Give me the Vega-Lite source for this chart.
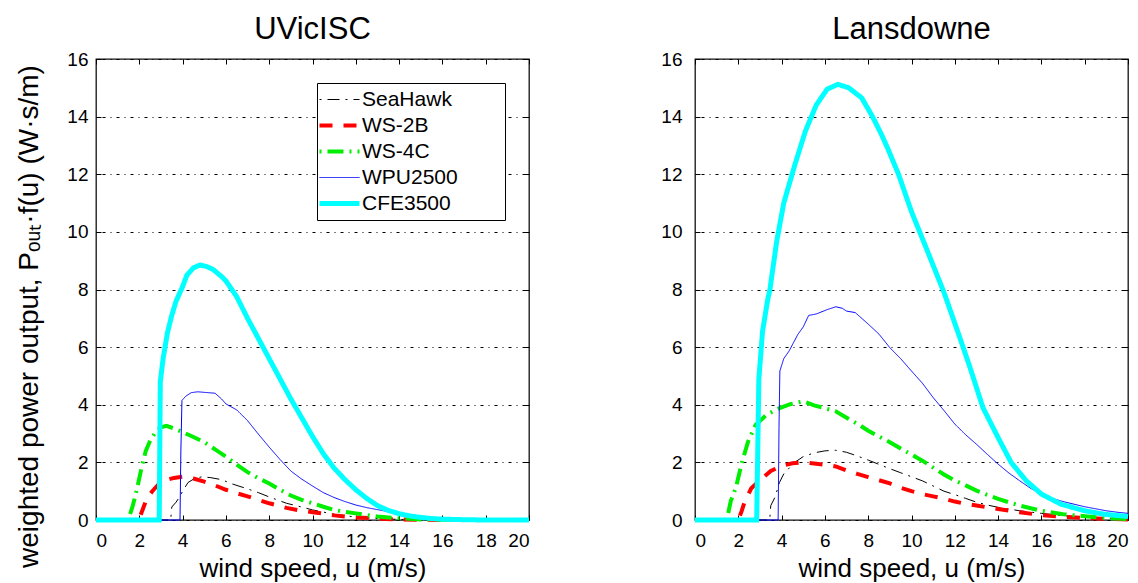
{
  "$schema": "https://vega.github.io/schema/vega-lite/v6.json",
  "background": "white",
  "padding": {"left": 15, "top": 13, "right": 0, "bottom": 0},
  "config": {
    "font": "Liberation Sans",
    "view": {"stroke": "#111111", "strokeWidth": 1.3},
    "axis": {
      "labelFont": "Liberation Sans", "labelFontSize": 19, "labelColor": "black",
      "titleFont": "Liberation Sans", "titleFontSize": 26, "titleFontWeight": "normal", "titleColor": "black",
      "tickColor": "black", "tickSize": -5, "tickWidth": 1, "domain": false, "grid": false
    },
    "title": {"font": "Liberation Sans", "fontSize": 31, "fontWeight": "normal", "color": "black", "anchor": "middle", "frame": "group", "offset": 4}
  },
  "datasets": {
    "curves": [
      {"site": "UVicISC", "turbine": "SeaHawk", "u": 0, "p": 0},
      {"site": "UVicISC", "turbine": "SeaHawk", "u": 3.45, "p": 0},
      {"site": "UVicISC", "turbine": "SeaHawk", "u": 3.5, "p": 0.45},
      {"site": "UVicISC", "turbine": "SeaHawk", "u": 3.7, "p": 0.62},
      {"site": "UVicISC", "turbine": "SeaHawk", "u": 3.9, "p": 0.85},
      {"site": "UVicISC", "turbine": "SeaHawk", "u": 4.0, "p": 1.0},
      {"site": "UVicISC", "turbine": "SeaHawk", "u": 4.25, "p": 1.3},
      {"site": "UVicISC", "turbine": "SeaHawk", "u": 4.55, "p": 1.44},
      {"site": "UVicISC", "turbine": "SeaHawk", "u": 4.9, "p": 1.5},
      {"site": "UVicISC", "turbine": "SeaHawk", "u": 5.3, "p": 1.47},
      {"site": "UVicISC", "turbine": "SeaHawk", "u": 5.8, "p": 1.4},
      {"site": "UVicISC", "turbine": "SeaHawk", "u": 6.3, "p": 1.25},
      {"site": "UVicISC", "turbine": "SeaHawk", "u": 7.0, "p": 1.08},
      {"site": "UVicISC", "turbine": "SeaHawk", "u": 7.5, "p": 0.95},
      {"site": "UVicISC", "turbine": "SeaHawk", "u": 8.0, "p": 0.8},
      {"site": "UVicISC", "turbine": "SeaHawk", "u": 8.8, "p": 0.58},
      {"site": "UVicISC", "turbine": "SeaHawk", "u": 9.5, "p": 0.45},
      {"site": "UVicISC", "turbine": "SeaHawk", "u": 10.0, "p": 0.35},
      {"site": "UVicISC", "turbine": "SeaHawk", "u": 11.0, "p": 0.2},
      {"site": "UVicISC", "turbine": "SeaHawk", "u": 12.0, "p": 0.1},
      {"site": "UVicISC", "turbine": "SeaHawk", "u": 13.0, "p": 0.05},
      {"site": "UVicISC", "turbine": "SeaHawk", "u": 14.0, "p": 0.02},
      {"site": "UVicISC", "turbine": "SeaHawk", "u": 15.0, "p": 0},
      {"site": "UVicISC", "turbine": "SeaHawk", "u": 20, "p": 0},

      {"site": "UVicISC", "turbine": "WS-2B", "u": 0, "p": 0},
      {"site": "UVicISC", "turbine": "WS-2B", "u": 1.95, "p": 0},
      {"site": "UVicISC", "turbine": "WS-2B", "u": 2.05, "p": 0.15},
      {"site": "UVicISC", "turbine": "WS-2B", "u": 2.2, "p": 0.45},
      {"site": "UVicISC", "turbine": "WS-2B", "u": 2.35, "p": 0.75},
      {"site": "UVicISC", "turbine": "WS-2B", "u": 2.6, "p": 1.0},
      {"site": "UVicISC", "turbine": "WS-2B", "u": 2.9, "p": 1.25},
      {"site": "UVicISC", "turbine": "WS-2B", "u": 3.2, "p": 1.38},
      {"site": "UVicISC", "turbine": "WS-2B", "u": 3.6, "p": 1.46},
      {"site": "UVicISC", "turbine": "WS-2B", "u": 4.0, "p": 1.5},
      {"site": "UVicISC", "turbine": "WS-2B", "u": 4.5, "p": 1.44},
      {"site": "UVicISC", "turbine": "WS-2B", "u": 5.0, "p": 1.33},
      {"site": "UVicISC", "turbine": "WS-2B", "u": 5.5, "p": 1.2},
      {"site": "UVicISC", "turbine": "WS-2B", "u": 6.0, "p": 1.05},
      {"site": "UVicISC", "turbine": "WS-2B", "u": 6.5, "p": 0.93},
      {"site": "UVicISC", "turbine": "WS-2B", "u": 7.0, "p": 0.82},
      {"site": "UVicISC", "turbine": "WS-2B", "u": 7.5, "p": 0.7},
      {"site": "UVicISC", "turbine": "WS-2B", "u": 8.0, "p": 0.58},
      {"site": "UVicISC", "turbine": "WS-2B", "u": 8.8, "p": 0.42},
      {"site": "UVicISC", "turbine": "WS-2B", "u": 9.5, "p": 0.32},
      {"site": "UVicISC", "turbine": "WS-2B", "u": 10.0, "p": 0.27},
      {"site": "UVicISC", "turbine": "WS-2B", "u": 10.5, "p": 0.22},
      {"site": "UVicISC", "turbine": "WS-2B", "u": 11.0, "p": 0.16},
      {"site": "UVicISC", "turbine": "WS-2B", "u": 11.5, "p": 0.12},
      {"site": "UVicISC", "turbine": "WS-2B", "u": 12.0, "p": 0.09},
      {"site": "UVicISC", "turbine": "WS-2B", "u": 13.0, "p": 0.05},
      {"site": "UVicISC", "turbine": "WS-2B", "u": 14.0, "p": 0.02},
      {"site": "UVicISC", "turbine": "WS-2B", "u": 15.0, "p": 0.01},
      {"site": "UVicISC", "turbine": "WS-2B", "u": 16.0, "p": 0},
      {"site": "UVicISC", "turbine": "WS-2B", "u": 20, "p": 0},

      {"site": "UVicISC", "turbine": "WS-4C", "u": 0, "p": 0},
      {"site": "UVicISC", "turbine": "WS-4C", "u": 1.45, "p": 0},
      {"site": "UVicISC", "turbine": "WS-4C", "u": 1.55, "p": 0.15},
      {"site": "UVicISC", "turbine": "WS-4C", "u": 1.7, "p": 0.5},
      {"site": "UVicISC", "turbine": "WS-4C", "u": 1.9, "p": 1.1},
      {"site": "UVicISC", "turbine": "WS-4C", "u": 2.1, "p": 1.8},
      {"site": "UVicISC", "turbine": "WS-4C", "u": 2.3, "p": 2.4},
      {"site": "UVicISC", "turbine": "WS-4C", "u": 2.5, "p": 2.75},
      {"site": "UVicISC", "turbine": "WS-4C", "u": 2.75, "p": 3.05},
      {"site": "UVicISC", "turbine": "WS-4C", "u": 3.0, "p": 3.22},
      {"site": "UVicISC", "turbine": "WS-4C", "u": 3.25, "p": 3.27},
      {"site": "UVicISC", "turbine": "WS-4C", "u": 3.6, "p": 3.18},
      {"site": "UVicISC", "turbine": "WS-4C", "u": 4.0, "p": 3.05},
      {"site": "UVicISC", "turbine": "WS-4C", "u": 4.5, "p": 2.88},
      {"site": "UVicISC", "turbine": "WS-4C", "u": 5.0, "p": 2.7},
      {"site": "UVicISC", "turbine": "WS-4C", "u": 5.5, "p": 2.45},
      {"site": "UVicISC", "turbine": "WS-4C", "u": 6.0, "p": 2.2},
      {"site": "UVicISC", "turbine": "WS-4C", "u": 6.5, "p": 1.92},
      {"site": "UVicISC", "turbine": "WS-4C", "u": 7.0, "p": 1.66},
      {"site": "UVicISC", "turbine": "WS-4C", "u": 7.5, "p": 1.45},
      {"site": "UVicISC", "turbine": "WS-4C", "u": 8.0, "p": 1.27},
      {"site": "UVicISC", "turbine": "WS-4C", "u": 8.5, "p": 1.05},
      {"site": "UVicISC", "turbine": "WS-4C", "u": 9.0, "p": 0.85},
      {"site": "UVicISC", "turbine": "WS-4C", "u": 9.5, "p": 0.7},
      {"site": "UVicISC", "turbine": "WS-4C", "u": 10.0, "p": 0.58},
      {"site": "UVicISC", "turbine": "WS-4C", "u": 10.5, "p": 0.46},
      {"site": "UVicISC", "turbine": "WS-4C", "u": 11.0, "p": 0.35},
      {"site": "UVicISC", "turbine": "WS-4C", "u": 11.5, "p": 0.28},
      {"site": "UVicISC", "turbine": "WS-4C", "u": 12.0, "p": 0.23},
      {"site": "UVicISC", "turbine": "WS-4C", "u": 12.5, "p": 0.17},
      {"site": "UVicISC", "turbine": "WS-4C", "u": 13.0, "p": 0.12},
      {"site": "UVicISC", "turbine": "WS-4C", "u": 14.0, "p": 0.06},
      {"site": "UVicISC", "turbine": "WS-4C", "u": 15.0, "p": 0.02},
      {"site": "UVicISC", "turbine": "WS-4C", "u": 16.0, "p": 0.01},
      {"site": "UVicISC", "turbine": "WS-4C", "u": 17.0, "p": 0},
      {"site": "UVicISC", "turbine": "WS-4C", "u": 20, "p": 0},

      {"site": "UVicISC", "turbine": "WPU2500", "u": 0, "p": 0},
      {"site": "UVicISC", "turbine": "WPU2500", "u": 3.88, "p": 0},
      {"site": "UVicISC", "turbine": "WPU2500", "u": 3.92, "p": 2.4},
      {"site": "UVicISC", "turbine": "WPU2500", "u": 3.97, "p": 4.15},
      {"site": "UVicISC", "turbine": "WPU2500", "u": 4.15, "p": 4.3},
      {"site": "UVicISC", "turbine": "WPU2500", "u": 4.4, "p": 4.42},
      {"site": "UVicISC", "turbine": "WPU2500", "u": 4.7, "p": 4.45},
      {"site": "UVicISC", "turbine": "WPU2500", "u": 5.0, "p": 4.43},
      {"site": "UVicISC", "turbine": "WPU2500", "u": 5.5, "p": 4.4},
      {"site": "UVicISC", "turbine": "WPU2500", "u": 5.8, "p": 4.2},
      {"site": "UVicISC", "turbine": "WPU2500", "u": 6.0, "p": 4.03},
      {"site": "UVicISC", "turbine": "WPU2500", "u": 6.5, "p": 3.82},
      {"site": "UVicISC", "turbine": "WPU2500", "u": 7.0, "p": 3.45},
      {"site": "UVicISC", "turbine": "WPU2500", "u": 7.5, "p": 2.98},
      {"site": "UVicISC", "turbine": "WPU2500", "u": 8.0, "p": 2.53},
      {"site": "UVicISC", "turbine": "WPU2500", "u": 8.5, "p": 2.1},
      {"site": "UVicISC", "turbine": "WPU2500", "u": 9.0, "p": 1.7},
      {"site": "UVicISC", "turbine": "WPU2500", "u": 9.5, "p": 1.42},
      {"site": "UVicISC", "turbine": "WPU2500", "u": 10.0, "p": 1.18},
      {"site": "UVicISC", "turbine": "WPU2500", "u": 10.5, "p": 0.95},
      {"site": "UVicISC", "turbine": "WPU2500", "u": 11.0, "p": 0.78},
      {"site": "UVicISC", "turbine": "WPU2500", "u": 11.5, "p": 0.64},
      {"site": "UVicISC", "turbine": "WPU2500", "u": 12.0, "p": 0.52},
      {"site": "UVicISC", "turbine": "WPU2500", "u": 12.5, "p": 0.43},
      {"site": "UVicISC", "turbine": "WPU2500", "u": 13.0, "p": 0.36},
      {"site": "UVicISC", "turbine": "WPU2500", "u": 13.5, "p": 0.29},
      {"site": "UVicISC", "turbine": "WPU2500", "u": 14.0, "p": 0.23},
      {"site": "UVicISC", "turbine": "WPU2500", "u": 14.5, "p": 0.16},
      {"site": "UVicISC", "turbine": "WPU2500", "u": 15.0, "p": 0.1},
      {"site": "UVicISC", "turbine": "WPU2500", "u": 15.5, "p": 0.07},
      {"site": "UVicISC", "turbine": "WPU2500", "u": 16.0, "p": 0.04},
      {"site": "UVicISC", "turbine": "WPU2500", "u": 17.0, "p": 0.01},
      {"site": "UVicISC", "turbine": "WPU2500", "u": 18.0, "p": 0},
      {"site": "UVicISC", "turbine": "WPU2500", "u": 20, "p": 0},

      {"site": "UVicISC", "turbine": "CFE3500", "u": 0, "p": 0},
      {"site": "UVicISC", "turbine": "CFE3500", "u": 2.92, "p": 0},
      {"site": "UVicISC", "turbine": "CFE3500", "u": 2.97, "p": 4.8},
      {"site": "UVicISC", "turbine": "CFE3500", "u": 3.1, "p": 5.6},
      {"site": "UVicISC", "turbine": "CFE3500", "u": 3.3, "p": 6.5},
      {"site": "UVicISC", "turbine": "CFE3500", "u": 3.5, "p": 7.1},
      {"site": "UVicISC", "turbine": "CFE3500", "u": 3.7, "p": 7.6},
      {"site": "UVicISC", "turbine": "CFE3500", "u": 4.0, "p": 8.1},
      {"site": "UVicISC", "turbine": "CFE3500", "u": 4.2, "p": 8.5},
      {"site": "UVicISC", "turbine": "CFE3500", "u": 4.5, "p": 8.75},
      {"site": "UVicISC", "turbine": "CFE3500", "u": 4.8, "p": 8.85},
      {"site": "UVicISC", "turbine": "CFE3500", "u": 5.1, "p": 8.8},
      {"site": "UVicISC", "turbine": "CFE3500", "u": 5.4, "p": 8.7},
      {"site": "UVicISC", "turbine": "CFE3500", "u": 5.8, "p": 8.45},
      {"site": "UVicISC", "turbine": "CFE3500", "u": 6.0, "p": 8.3},
      {"site": "UVicISC", "turbine": "CFE3500", "u": 6.5, "p": 7.75},
      {"site": "UVicISC", "turbine": "CFE3500", "u": 7.0, "p": 7.0},
      {"site": "UVicISC", "turbine": "CFE3500", "u": 7.5, "p": 6.3},
      {"site": "UVicISC", "turbine": "CFE3500", "u": 8.0, "p": 5.6},
      {"site": "UVicISC", "turbine": "CFE3500", "u": 8.5, "p": 4.9},
      {"site": "UVicISC", "turbine": "CFE3500", "u": 9.0, "p": 4.2},
      {"site": "UVicISC", "turbine": "CFE3500", "u": 9.5, "p": 3.55},
      {"site": "UVicISC", "turbine": "CFE3500", "u": 10.0, "p": 2.9},
      {"site": "UVicISC", "turbine": "CFE3500", "u": 10.5, "p": 2.3},
      {"site": "UVicISC", "turbine": "CFE3500", "u": 11.0, "p": 1.8},
      {"site": "UVicISC", "turbine": "CFE3500", "u": 11.5, "p": 1.4},
      {"site": "UVicISC", "turbine": "CFE3500", "u": 12.0, "p": 1.05},
      {"site": "UVicISC", "turbine": "CFE3500", "u": 12.5, "p": 0.75},
      {"site": "UVicISC", "turbine": "CFE3500", "u": 13.0, "p": 0.5},
      {"site": "UVicISC", "turbine": "CFE3500", "u": 13.5, "p": 0.33},
      {"site": "UVicISC", "turbine": "CFE3500", "u": 14.0, "p": 0.22},
      {"site": "UVicISC", "turbine": "CFE3500", "u": 14.5, "p": 0.14},
      {"site": "UVicISC", "turbine": "CFE3500", "u": 15.0, "p": 0.09},
      {"site": "UVicISC", "turbine": "CFE3500", "u": 15.5, "p": 0.05},
      {"site": "UVicISC", "turbine": "CFE3500", "u": 16.0, "p": 0.03},
      {"site": "UVicISC", "turbine": "CFE3500", "u": 17.0, "p": 0.01},
      {"site": "UVicISC", "turbine": "CFE3500", "u": 18.0, "p": 0},
      {"site": "UVicISC", "turbine": "CFE3500", "u": 20, "p": 0},

      {"site": "Lansdowne", "turbine": "SeaHawk", "u": 0, "p": 0},
      {"site": "Lansdowne", "turbine": "SeaHawk", "u": 3.45, "p": 0},
      {"site": "Lansdowne", "turbine": "SeaHawk", "u": 3.5, "p": 0.5},
      {"site": "Lansdowne", "turbine": "SeaHawk", "u": 3.7, "p": 0.8},
      {"site": "Lansdowne", "turbine": "SeaHawk", "u": 3.9, "p": 1.3},
      {"site": "Lansdowne", "turbine": "SeaHawk", "u": 4.1, "p": 1.6},
      {"site": "Lansdowne", "turbine": "SeaHawk", "u": 4.6, "p": 2.0},
      {"site": "Lansdowne", "turbine": "SeaHawk", "u": 5.0, "p": 2.2},
      {"site": "Lansdowne", "turbine": "SeaHawk", "u": 5.5, "p": 2.33},
      {"site": "Lansdowne", "turbine": "SeaHawk", "u": 6.0, "p": 2.4},
      {"site": "Lansdowne", "turbine": "SeaHawk", "u": 6.5, "p": 2.42},
      {"site": "Lansdowne", "turbine": "SeaHawk", "u": 7.0, "p": 2.35},
      {"site": "Lansdowne", "turbine": "SeaHawk", "u": 7.5, "p": 2.22},
      {"site": "Lansdowne", "turbine": "SeaHawk", "u": 8.0, "p": 2.08},
      {"site": "Lansdowne", "turbine": "SeaHawk", "u": 8.5, "p": 1.93},
      {"site": "Lansdowne", "turbine": "SeaHawk", "u": 9.0, "p": 1.78},
      {"site": "Lansdowne", "turbine": "SeaHawk", "u": 9.5, "p": 1.64},
      {"site": "Lansdowne", "turbine": "SeaHawk", "u": 10.0, "p": 1.5},
      {"site": "Lansdowne", "turbine": "SeaHawk", "u": 10.5, "p": 1.36},
      {"site": "Lansdowne", "turbine": "SeaHawk", "u": 11.0, "p": 1.18},
      {"site": "Lansdowne", "turbine": "SeaHawk", "u": 11.5, "p": 1.0},
      {"site": "Lansdowne", "turbine": "SeaHawk", "u": 12.0, "p": 0.88},
      {"site": "Lansdowne", "turbine": "SeaHawk", "u": 12.5, "p": 0.75},
      {"site": "Lansdowne", "turbine": "SeaHawk", "u": 13.0, "p": 0.62},
      {"site": "Lansdowne", "turbine": "SeaHawk", "u": 13.5, "p": 0.52},
      {"site": "Lansdowne", "turbine": "SeaHawk", "u": 14.0, "p": 0.44},
      {"site": "Lansdowne", "turbine": "SeaHawk", "u": 15.0, "p": 0.32},
      {"site": "Lansdowne", "turbine": "SeaHawk", "u": 16.0, "p": 0.23},
      {"site": "Lansdowne", "turbine": "SeaHawk", "u": 17.0, "p": 0.15},
      {"site": "Lansdowne", "turbine": "SeaHawk", "u": 18.0, "p": 0.09},
      {"site": "Lansdowne", "turbine": "SeaHawk", "u": 19.0, "p": 0.06},
      {"site": "Lansdowne", "turbine": "SeaHawk", "u": 20.0, "p": 0.03},

      {"site": "Lansdowne", "turbine": "WS-2B", "u": 0, "p": 0},
      {"site": "Lansdowne", "turbine": "WS-2B", "u": 2.0, "p": 0},
      {"site": "Lansdowne", "turbine": "WS-2B", "u": 2.15, "p": 0.3},
      {"site": "Lansdowne", "turbine": "WS-2B", "u": 2.3, "p": 0.65},
      {"site": "Lansdowne", "turbine": "WS-2B", "u": 2.6, "p": 1.1},
      {"site": "Lansdowne", "turbine": "WS-2B", "u": 3.0, "p": 1.38},
      {"site": "Lansdowne", "turbine": "WS-2B", "u": 3.5, "p": 1.7},
      {"site": "Lansdowne", "turbine": "WS-2B", "u": 4.0, "p": 1.88},
      {"site": "Lansdowne", "turbine": "WS-2B", "u": 4.5, "p": 1.97},
      {"site": "Lansdowne", "turbine": "WS-2B", "u": 5.0, "p": 2.0},
      {"site": "Lansdowne", "turbine": "WS-2B", "u": 5.5, "p": 1.96},
      {"site": "Lansdowne", "turbine": "WS-2B", "u": 6.0, "p": 1.92},
      {"site": "Lansdowne", "turbine": "WS-2B", "u": 6.5, "p": 1.86},
      {"site": "Lansdowne", "turbine": "WS-2B", "u": 7.0, "p": 1.72},
      {"site": "Lansdowne", "turbine": "WS-2B", "u": 7.5, "p": 1.6},
      {"site": "Lansdowne", "turbine": "WS-2B", "u": 8.0, "p": 1.49},
      {"site": "Lansdowne", "turbine": "WS-2B", "u": 8.5, "p": 1.38},
      {"site": "Lansdowne", "turbine": "WS-2B", "u": 9.0, "p": 1.27},
      {"site": "Lansdowne", "turbine": "WS-2B", "u": 9.5, "p": 1.12},
      {"site": "Lansdowne", "turbine": "WS-2B", "u": 10.0, "p": 1.0},
      {"site": "Lansdowne", "turbine": "WS-2B", "u": 10.5, "p": 0.9},
      {"site": "Lansdowne", "turbine": "WS-2B", "u": 11.0, "p": 0.82},
      {"site": "Lansdowne", "turbine": "WS-2B", "u": 11.5, "p": 0.74},
      {"site": "Lansdowne", "turbine": "WS-2B", "u": 12.0, "p": 0.64},
      {"site": "Lansdowne", "turbine": "WS-2B", "u": 12.5, "p": 0.56},
      {"site": "Lansdowne", "turbine": "WS-2B", "u": 13.0, "p": 0.5},
      {"site": "Lansdowne", "turbine": "WS-2B", "u": 14.0, "p": 0.38},
      {"site": "Lansdowne", "turbine": "WS-2B", "u": 15.0, "p": 0.27},
      {"site": "Lansdowne", "turbine": "WS-2B", "u": 16.0, "p": 0.17},
      {"site": "Lansdowne", "turbine": "WS-2B", "u": 17.0, "p": 0.11},
      {"site": "Lansdowne", "turbine": "WS-2B", "u": 18.0, "p": 0.07},
      {"site": "Lansdowne", "turbine": "WS-2B", "u": 19.0, "p": 0.04},
      {"site": "Lansdowne", "turbine": "WS-2B", "u": 20.0, "p": 0.02},

      {"site": "Lansdowne", "turbine": "WS-4C", "u": 0, "p": 0},
      {"site": "Lansdowne", "turbine": "WS-4C", "u": 1.4, "p": 0},
      {"site": "Lansdowne", "turbine": "WS-4C", "u": 1.5, "p": 0.12},
      {"site": "Lansdowne", "turbine": "WS-4C", "u": 1.65, "p": 0.65},
      {"site": "Lansdowne", "turbine": "WS-4C", "u": 1.9, "p": 1.15},
      {"site": "Lansdowne", "turbine": "WS-4C", "u": 2.15, "p": 1.95},
      {"site": "Lansdowne", "turbine": "WS-4C", "u": 2.45, "p": 2.72},
      {"site": "Lansdowne", "turbine": "WS-4C", "u": 2.8, "p": 3.3},
      {"site": "Lansdowne", "turbine": "WS-4C", "u": 3.3, "p": 3.65},
      {"site": "Lansdowne", "turbine": "WS-4C", "u": 3.8, "p": 3.85},
      {"site": "Lansdowne", "turbine": "WS-4C", "u": 4.4, "p": 4.02},
      {"site": "Lansdowne", "turbine": "WS-4C", "u": 5.0, "p": 4.12},
      {"site": "Lansdowne", "turbine": "WS-4C", "u": 5.5, "p": 3.98},
      {"site": "Lansdowne", "turbine": "WS-4C", "u": 6.0, "p": 3.88},
      {"site": "Lansdowne", "turbine": "WS-4C", "u": 6.5, "p": 3.77},
      {"site": "Lansdowne", "turbine": "WS-4C", "u": 7.0, "p": 3.55},
      {"site": "Lansdowne", "turbine": "WS-4C", "u": 7.5, "p": 3.34},
      {"site": "Lansdowne", "turbine": "WS-4C", "u": 8.0, "p": 3.1},
      {"site": "Lansdowne", "turbine": "WS-4C", "u": 8.5, "p": 2.9},
      {"site": "Lansdowne", "turbine": "WS-4C", "u": 9.0, "p": 2.7},
      {"site": "Lansdowne", "turbine": "WS-4C", "u": 9.5, "p": 2.48},
      {"site": "Lansdowne", "turbine": "WS-4C", "u": 10.0, "p": 2.27},
      {"site": "Lansdowne", "turbine": "WS-4C", "u": 10.5, "p": 2.06},
      {"site": "Lansdowne", "turbine": "WS-4C", "u": 11.0, "p": 1.82},
      {"site": "Lansdowne", "turbine": "WS-4C", "u": 11.5, "p": 1.58},
      {"site": "Lansdowne", "turbine": "WS-4C", "u": 12.0, "p": 1.37},
      {"site": "Lansdowne", "turbine": "WS-4C", "u": 12.5, "p": 1.2},
      {"site": "Lansdowne", "turbine": "WS-4C", "u": 13.0, "p": 1.02},
      {"site": "Lansdowne", "turbine": "WS-4C", "u": 13.5, "p": 0.87},
      {"site": "Lansdowne", "turbine": "WS-4C", "u": 14.0, "p": 0.73},
      {"site": "Lansdowne", "turbine": "WS-4C", "u": 15.0, "p": 0.5},
      {"site": "Lansdowne", "turbine": "WS-4C", "u": 16.0, "p": 0.32},
      {"site": "Lansdowne", "turbine": "WS-4C", "u": 17.0, "p": 0.2},
      {"site": "Lansdowne", "turbine": "WS-4C", "u": 18.0, "p": 0.13},
      {"site": "Lansdowne", "turbine": "WS-4C", "u": 19.0, "p": 0.07},
      {"site": "Lansdowne", "turbine": "WS-4C", "u": 20.0, "p": 0.03},

      {"site": "Lansdowne", "turbine": "WPU2500", "u": 0, "p": 0},
      {"site": "Lansdowne", "turbine": "WPU2500", "u": 3.84, "p": 0},
      {"site": "Lansdowne", "turbine": "WPU2500", "u": 3.88, "p": 3.2},
      {"site": "Lansdowne", "turbine": "WPU2500", "u": 3.92, "p": 5.17},
      {"site": "Lansdowne", "turbine": "WPU2500", "u": 4.1, "p": 5.6},
      {"site": "Lansdowne", "turbine": "WPU2500", "u": 4.35, "p": 5.87},
      {"site": "Lansdowne", "turbine": "WPU2500", "u": 4.75, "p": 6.44},
      {"site": "Lansdowne", "turbine": "WPU2500", "u": 5.0, "p": 6.7},
      {"site": "Lansdowne", "turbine": "WPU2500", "u": 5.25, "p": 7.1},
      {"site": "Lansdowne", "turbine": "WPU2500", "u": 5.6, "p": 7.15},
      {"site": "Lansdowne", "turbine": "WPU2500", "u": 6.1, "p": 7.3},
      {"site": "Lansdowne", "turbine": "WPU2500", "u": 6.5, "p": 7.4},
      {"site": "Lansdowne", "turbine": "WPU2500", "u": 6.8, "p": 7.35},
      {"site": "Lansdowne", "turbine": "WPU2500", "u": 7.0, "p": 7.25},
      {"site": "Lansdowne", "turbine": "WPU2500", "u": 7.4, "p": 7.2},
      {"site": "Lansdowne", "turbine": "WPU2500", "u": 8.0, "p": 6.8},
      {"site": "Lansdowne", "turbine": "WPU2500", "u": 8.5, "p": 6.45},
      {"site": "Lansdowne", "turbine": "WPU2500", "u": 9.0, "p": 5.98},
      {"site": "Lansdowne", "turbine": "WPU2500", "u": 9.5, "p": 5.6},
      {"site": "Lansdowne", "turbine": "WPU2500", "u": 10.0, "p": 5.17},
      {"site": "Lansdowne", "turbine": "WPU2500", "u": 10.5, "p": 4.75},
      {"site": "Lansdowne", "turbine": "WPU2500", "u": 11.0, "p": 4.25},
      {"site": "Lansdowne", "turbine": "WPU2500", "u": 11.5, "p": 3.8},
      {"site": "Lansdowne", "turbine": "WPU2500", "u": 12.0, "p": 3.33},
      {"site": "Lansdowne", "turbine": "WPU2500", "u": 12.5, "p": 2.96},
      {"site": "Lansdowne", "turbine": "WPU2500", "u": 13.0, "p": 2.63},
      {"site": "Lansdowne", "turbine": "WPU2500", "u": 13.5, "p": 2.28},
      {"site": "Lansdowne", "turbine": "WPU2500", "u": 14.0, "p": 1.94},
      {"site": "Lansdowne", "turbine": "WPU2500", "u": 14.5, "p": 1.63},
      {"site": "Lansdowne", "turbine": "WPU2500", "u": 15.0, "p": 1.36},
      {"site": "Lansdowne", "turbine": "WPU2500", "u": 15.5, "p": 1.1},
      {"site": "Lansdowne", "turbine": "WPU2500", "u": 16.0, "p": 0.9},
      {"site": "Lansdowne", "turbine": "WPU2500", "u": 16.5, "p": 0.75},
      {"site": "Lansdowne", "turbine": "WPU2500", "u": 17.0, "p": 0.64},
      {"site": "Lansdowne", "turbine": "WPU2500", "u": 17.5, "p": 0.55},
      {"site": "Lansdowne", "turbine": "WPU2500", "u": 18.0, "p": 0.46},
      {"site": "Lansdowne", "turbine": "WPU2500", "u": 18.5, "p": 0.39},
      {"site": "Lansdowne", "turbine": "WPU2500", "u": 19.0, "p": 0.32},
      {"site": "Lansdowne", "turbine": "WPU2500", "u": 19.5, "p": 0.27},
      {"site": "Lansdowne", "turbine": "WPU2500", "u": 20.0, "p": 0.23},

      {"site": "Lansdowne", "turbine": "CFE3500", "u": 0, "p": 0},
      {"site": "Lansdowne", "turbine": "CFE3500", "u": 2.85, "p": 0},
      {"site": "Lansdowne", "turbine": "CFE3500", "u": 2.9, "p": 2.5},
      {"site": "Lansdowne", "turbine": "CFE3500", "u": 2.95, "p": 4.9},
      {"site": "Lansdowne", "turbine": "CFE3500", "u": 3.12, "p": 6.55},
      {"site": "Lansdowne", "turbine": "CFE3500", "u": 3.37, "p": 7.7},
      {"site": "Lansdowne", "turbine": "CFE3500", "u": 3.45, "p": 7.95},
      {"site": "Lansdowne", "turbine": "CFE3500", "u": 3.78, "p": 9.7},
      {"site": "Lansdowne", "turbine": "CFE3500", "u": 4.1, "p": 11.0},
      {"site": "Lansdowne", "turbine": "CFE3500", "u": 4.6, "p": 12.3},
      {"site": "Lansdowne", "turbine": "CFE3500", "u": 5.1, "p": 13.5},
      {"site": "Lansdowne", "turbine": "CFE3500", "u": 5.6, "p": 14.4},
      {"site": "Lansdowne", "turbine": "CFE3500", "u": 6.1, "p": 14.95},
      {"site": "Lansdowne", "turbine": "CFE3500", "u": 6.6, "p": 15.12},
      {"site": "Lansdowne", "turbine": "CFE3500", "u": 7.1, "p": 15.0},
      {"site": "Lansdowne", "turbine": "CFE3500", "u": 7.7, "p": 14.65},
      {"site": "Lansdowne", "turbine": "CFE3500", "u": 8.2, "p": 14.0},
      {"site": "Lansdowne", "turbine": "CFE3500", "u": 8.6, "p": 13.4},
      {"site": "Lansdowne", "turbine": "CFE3500", "u": 8.9, "p": 12.9},
      {"site": "Lansdowne", "turbine": "CFE3500", "u": 9.4, "p": 12.0},
      {"site": "Lansdowne", "turbine": "CFE3500", "u": 10.0, "p": 10.7},
      {"site": "Lansdowne", "turbine": "CFE3500", "u": 10.7, "p": 9.4},
      {"site": "Lansdowne", "turbine": "CFE3500", "u": 11.5, "p": 7.9},
      {"site": "Lansdowne", "turbine": "CFE3500", "u": 12.2, "p": 6.4},
      {"site": "Lansdowne", "turbine": "CFE3500", "u": 12.7, "p": 5.3},
      {"site": "Lansdowne", "turbine": "CFE3500", "u": 13.3, "p": 3.9},
      {"site": "Lansdowne", "turbine": "CFE3500", "u": 14.0, "p": 2.86},
      {"site": "Lansdowne", "turbine": "CFE3500", "u": 14.6, "p": 2.0},
      {"site": "Lansdowne", "turbine": "CFE3500", "u": 15.3, "p": 1.36},
      {"site": "Lansdowne", "turbine": "CFE3500", "u": 16.0, "p": 0.9},
      {"site": "Lansdowne", "turbine": "CFE3500", "u": 16.9, "p": 0.55},
      {"site": "Lansdowne", "turbine": "CFE3500", "u": 18.0, "p": 0.32},
      {"site": "Lansdowne", "turbine": "CFE3500", "u": 18.9, "p": 0.2},
      {"site": "Lansdowne", "turbine": "CFE3500", "u": 20.0, "p": 0.12}
    ]
  },
  "data": {"name": "curves"},
  "spacing": 120,
  "resolve": {
    "scale": {"color": "independent", "strokeDash": "independent"},
    "legend": {"color": "independent", "strokeDash": "independent"}
  },
  "hconcat": [
    {
      "width": 433,
      "height": 461,
      "title": {"text": "UVicISC"},
      "transform": [{"filter": "datum.site === 'UVicISC'"}],
      "layer": [
        {
          "mark": {"type": "line", "strokeCap": "butt"},
          "encoding": {
            "x": {
              "field": "u", "type": "quantitative",
              "scale": {"domain": [0, 20], "nice": false, "zero": false},
              "axis": {"values": [0, 2, 4, 6, 8, 10, 12, 14, 16, 18, 20], "labelPadding": 16, "title": "wind speed, u (m/s)", "titlePadding": 5}
            },
            "y": {
              "field": "p", "type": "quantitative",
              "scale": {"domain": [0, 16], "nice": false},
              "axis": {
                "values": [0, 2, 4, 6, 8, 10, 12, 14, 16], "labelPadding": 13,
                "title": "weighted power output, Pₒᵤₜ·f(u)    (W·s/m)", "titlePadding": 23, "titleFontSize": 28, "titleY": 257,
                "grid": true, "gridColor": "black", "gridDash": [1, 5, 3, 5], "gridWidth": 1, "gridOpacity": 1
              }
            },
            "color": {
              "field": "turbine", "type": "nominal",
              "scale": {"domain": ["SeaHawk", "WS-2B", "WS-4C", "WPU2500", "CFE3500"], "range": ["#000000", "#ff0000", "#00ee00", "#0000ff", "#00ffff"]},
              "legend": {
                "title": null, "orient": "top-right", "offset": 24,
                "strokeColor": "black", "fillColor": "white", "padding": 6, "symbolOffset": 6,
                "symbolType": "stroke", "symbolSize": 1600, "symbolStrokeWidth": 2,
                "labelFont": "Liberation Sans", "labelFontSize": 21, "labelColor": "black",
                "labelOffset": 12, "rowPadding": 4,
                "labelExpr": "datum.label + '       \u200b'",
                "encode": {"symbols": {"update": {"strokeWidth": {"signal": "datum.value === 'CFE3500' ? 5 : (datum.value === 'WS-2B' || datum.value === 'WS-4C') ? 4 : 1"}}}}
              }
            },
            "strokeDash": {
              "field": "turbine", "type": "nominal",
              "scale": {"domain": ["SeaHawk", "WS-2B", "WS-4C", "WPU2500", "CFE3500"], "range": [[2, 6, 12, 6], [13, 11], [2, 6, 16, 6], [1, 0], [1, 0]]},
              "legend": {"title": null}
            },
            "strokeWidth": {
              "condition": [
                {"test": "datum.turbine === 'CFE3500'", "value": 5},
                {"test": "datum.turbine === 'WS-2B' || datum.turbine === 'WS-4C'", "value": 4}
              ],
              "value": 1
            }
          }
        },
        {
          "mark": {"type": "point", "opacity": 0},
          "encoding": {
            "x": {"field": "u", "type": "quantitative", "axis": {"orient": "top", "values": [0, 2, 4, 6, 8, 10, 12, 14, 16, 18, 20], "labels": false, "title": null}},
            "y": {"field": "p", "type": "quantitative", "axis": {"orient": "right", "values": [0, 2, 4, 6, 8, 10, 12, 14, 16], "labels": false, "title": null}}
          }
        }
      ],
      "resolve": {"axis": {"x": "independent", "y": "independent"}}
    },
    {
      "width": 433,
      "height": 461,
      "title": {"text": "Lansdowne"},
      "transform": [{"filter": "datum.site === 'Lansdowne'"}],
      "layer": [
        {
          "mark": {"type": "line", "strokeCap": "butt"},
          "encoding": {
            "x": {
              "field": "u", "type": "quantitative",
              "scale": {"domain": [0, 20], "nice": false, "zero": false},
              "axis": {"values": [0, 2, 4, 6, 8, 10, 12, 14, 16, 18, 20], "labelPadding": 16, "title": "wind speed, u (m/s)", "titlePadding": 5}
            },
            "y": {
              "field": "p", "type": "quantitative",
              "scale": {"domain": [0, 16], "nice": false},
              "axis": {
                "values": [0, 2, 4, 6, 8, 10, 12, 14, 16], "labelPadding": 18, "title": null,
                "grid": true, "gridColor": "black", "gridDash": [1, 5, 3, 5], "gridWidth": 1, "gridOpacity": 1
              }
            },
            "color": {
              "field": "turbine", "type": "nominal",
              "scale": {"domain": ["SeaHawk", "WS-2B", "WS-4C", "WPU2500", "CFE3500"], "range": ["#000000", "#ff0000", "#00ee00", "#0000ff", "#00ffff"]},
              "legend": null
            },
            "strokeDash": {
              "field": "turbine", "type": "nominal",
              "scale": {"domain": ["SeaHawk", "WS-2B", "WS-4C", "WPU2500", "CFE3500"], "range": [[2, 6, 12, 6], [13, 11], [2, 6, 16, 6], [1, 0], [1, 0]]},
              "legend": null
            },
            "strokeWidth": {
              "condition": [
                {"test": "datum.turbine === 'CFE3500'", "value": 5},
                {"test": "datum.turbine === 'WS-2B' || datum.turbine === 'WS-4C'", "value": 4}
              ],
              "value": 1
            }
          }
        },
        {
          "mark": {"type": "point", "opacity": 0},
          "encoding": {
            "x": {"field": "u", "type": "quantitative", "axis": {"orient": "top", "values": [0, 2, 4, 6, 8, 10, 12, 14, 16, 18, 20], "labels": false, "title": null}},
            "y": {"field": "p", "type": "quantitative", "axis": {"orient": "right", "values": [0, 2, 4, 6, 8, 10, 12, 14, 16], "labels": false, "title": null}}
          }
        }
      ],
      "resolve": {"axis": {"x": "independent", "y": "independent"}}
    }
  ]
}
